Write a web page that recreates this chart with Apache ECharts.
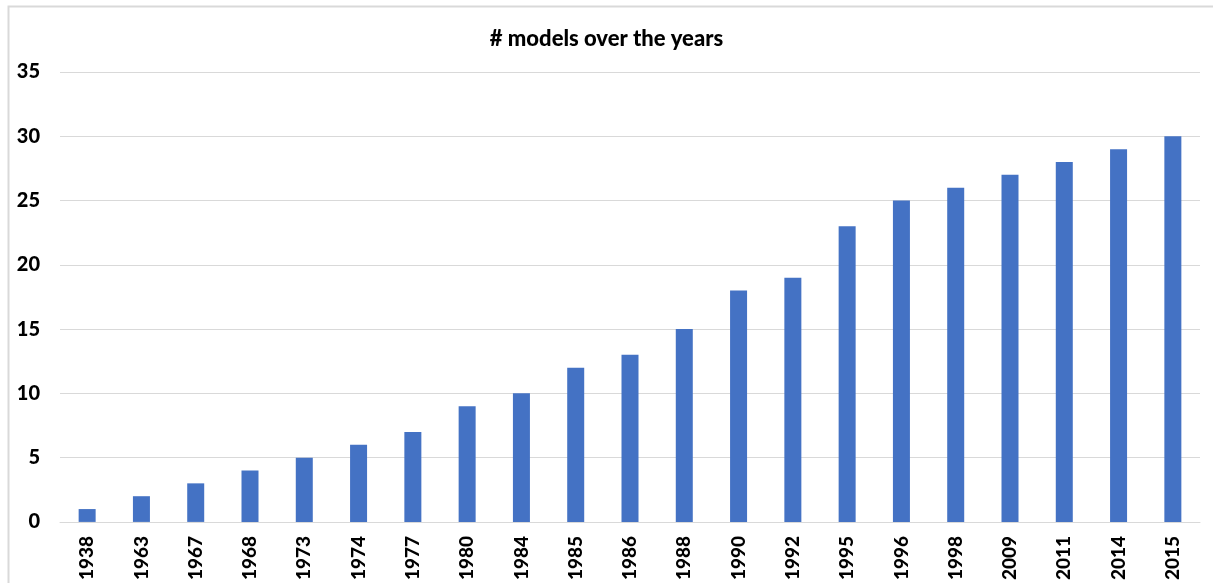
<!DOCTYPE html>
<html>
<head>
<meta charset="utf-8">
<script src="https://cdn.jsdelivr.net/npm/echarts@6/dist/echarts.min.js"></script>
<style>
  html, body { margin: 0; padding: 0; background: #fff; }
  #chart { width: 1213px; height: 583px; }
</style>
</head>
<body>
<div id="chart"></div>
<script>
// Cumulative number of models by year
const years = ['1938', '1963', '1967', '1968', '1973', '1974', '1977', '1980', '1984', '1985', '1986',
  '1988', '1990', '1992', '1995', '1996', '1998', '2009', '2011', '2014', '2015'];
const modelCounts = [1, 2, 3, 4, 5, 6, 7, 9, 10, 12, 13, 15, 18, 19, 23, 25, 26, 27, 28, 29, 30];

const chart = echarts.init(document.getElementById('chart'));
const font = 'Lato, "Open Sans", "Liberation Sans", sans-serif';

chart.setOption({
  animation: false,
  backgroundColor: '#fff',
  title: {
    text: '# models over the years',
    left: 'center',
    top: 23,
    textStyle: { fontFamily: font, fontSize: 22, fontWeight: 900, color: '#000' }
  },
  graphic: [{
    type: 'rect',
    shape: { x: 8.5, y: 6.5, width: 1230, height: 600 },
    style: { fill: 'none', stroke: '#d9d9d9', lineWidth: 2 },
    silent: true
  }],
  grid: { left: 60, right: 13, top: 72, bottom: 61, containLabel: false },
  xAxis: {
    type: 'category',
    data: years,
    axisLine: { show: true, lineStyle: { color: '#d9d9d9', width: 1 } },
    axisTick: { show: false },
    axisLabel: {
      rotate: 90,
      margin: 14,
      fontFamily: font,
      fontSize: 19,
      fontWeight: 900,
      color: '#000',
      interval: 0
    }
  },
  yAxis: {
    type: 'value',
    min: 0,
    max: 35,
    interval: 5,
    axisLine: { show: false },
    axisTick: { show: false },
    splitLine: { lineStyle: { color: '#d9d9d9', width: 1 } },
    axisLabel: {
      margin: 20,
      fontFamily: font,
      fontSize: 20,
      fontWeight: 900,
      color: '#000'
    }
  },
  series: [{
    type: 'bar',
    data: modelCounts,
    barWidth: 17,
    itemStyle: { color: '#4472C4' }
  }]
});
</script>
</body>
</html>
